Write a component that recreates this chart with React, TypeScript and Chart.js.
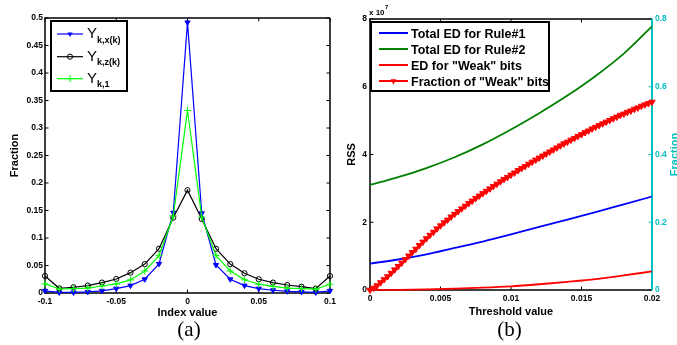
import React, { useEffect, useRef } from "react";
import { Chart, registerables } from "chart.js";

Chart.register(...registerables);

const FONT = '"Liberation Sans", Arial, Helvetica, sans-serif';
const SERIF = '"Liberation Serif", "Times New Roman", serif';
const CYAN = "#00bfbf";

// ---------- (a) ----------
const indexValues = [-0.1, -0.09, -0.08, -0.07, -0.06, -0.05, -0.04, -0.03, -0.02, -0.01, 0, 0.01, 0.02, 0.03, 0.04, 0.05, 0.06, 0.07, 0.08, 0.09, 0.1];
const fractionYkx = [0.004, 0.001, 0.001, 0.002, 0.004, 0.008, 0.0135, 0.025, 0.053, 0.146, 0.492, 0.145, 0.051, 0.025, 0.0135, 0.008, 0.005, 0.003, 0.002, 0.001, 0.004];
const fractionYkz = [0.031, 0.0085, 0.0105, 0.0135, 0.019, 0.0255, 0.037, 0.0525, 0.0805, 0.137, 0.187, 0.1345, 0.0805, 0.0525, 0.036, 0.025, 0.019, 0.0145, 0.0115, 0.008, 0.031];
const fractionYk1 = [0.0165, 0.0073, 0.008, 0.009, 0.0127, 0.0165, 0.0238, 0.04, 0.068, 0.14, 0.332, 0.138, 0.068, 0.04, 0.024, 0.016, 0.012, 0.009, 0.008, 0.007, 0.016];
const aXTicks = [-0.1, -0.05, 0, 0.05, 0.1];
const aYMax = 0.5;

// ---------- (b) ----------
const thresholdCoarse = [0, 0.002, 0.004, 0.006, 0.008, 0.01, 0.012, 0.014, 0.016, 0.018, 0.02];
// RSS values in units of 10^7
const totalEdRule1 = [0.78, 0.9, 1.05, 1.24, 1.43, 1.64, 1.86, 2.08, 2.3, 2.53, 2.76];
const totalEdRule2 = [3.1, 3.33, 3.6, 3.92, 4.3, 4.74, 5.22, 5.74, 6.32, 6.98, 7.78];
const edWeakBits = [0, 0.005, 0.02, 0.04, 0.07, 0.11, 0.17, 0.24, 0.32, 0.43, 0.55];
const thresholdFine = [0, 0.00025, 0.0005, 0.00075, 0.001, 0.00125, 0.0015, 0.00175, 0.002, 0.00225, 0.0025, 0.00275, 0.003, 0.00325, 0.0035, 0.00375, 0.004, 0.00425, 0.0045, 0.00475, 0.005, 0.00525, 0.0055, 0.00575, 0.006, 0.00625, 0.0065, 0.00675, 0.007, 0.00725, 0.0075, 0.00775, 0.008, 0.00825, 0.0085, 0.00875, 0.009, 0.00925, 0.0095, 0.00975, 0.01, 0.01025, 0.0105, 0.01075, 0.011, 0.01125, 0.0115, 0.01175, 0.012, 0.01225, 0.0125, 0.01275, 0.013, 0.01325, 0.0135, 0.01375, 0.014, 0.01425, 0.0145, 0.01475, 0.015, 0.01525, 0.0155, 0.01575, 0.016, 0.01625, 0.0165, 0.01675, 0.017, 0.01725, 0.0175, 0.01775, 0.018, 0.01825, 0.0185, 0.01875, 0.019, 0.01925, 0.0195, 0.01975, 0.02];
const weakFraction = [0, 0.006, 0.013, 0.022, 0.031, 0.04, 0.05, 0.06, 0.07, 0.08, 0.09, 0.101, 0.111, 0.121, 0.132, 0.142, 0.152, 0.162, 0.171, 0.181, 0.19, 0.199, 0.207, 0.216, 0.224, 0.232, 0.24, 0.248, 0.256, 0.263, 0.271, 0.278, 0.285, 0.292, 0.299, 0.306, 0.313, 0.32, 0.327, 0.333, 0.34, 0.346, 0.353, 0.359, 0.365, 0.372, 0.378, 0.384, 0.39, 0.396, 0.402, 0.408, 0.414, 0.42, 0.426, 0.432, 0.437, 0.443, 0.448, 0.454, 0.459, 0.465, 0.47, 0.476, 0.481, 0.486, 0.491, 0.496, 0.501, 0.506, 0.511, 0.516, 0.52, 0.525, 0.529, 0.534, 0.538, 0.543, 0.547, 0.551, 0.555];
const bLegend = ["Total ED for Rule#1", "Total ED for Rule#2", 'ED for "Weak" bits', 'Fraction of "Weak" bits'];

const zip = (xs: number[], ys: number[]) => xs.map((x, i) => ({ x, y: ys[i] }));
const fmt = (v: any) => String(Number(Number(v).toFixed(5)));

const tickFont = { family: FONT, size: 8.5, weight: "bold" as const };
const titleFont = { family: FONT, size: 11, weight: "bold" as const };

function triDown(ctx: CanvasRenderingContext2D, x: number, y: number, r: number) {
  ctx.beginPath();
  ctx.moveTo(x, y + r);
  ctx.lineTo(x - r * 0.866, y - r * 0.5);
  ctx.lineTo(x + r * 0.866, y - r * 0.5);
  ctx.closePath();
  ctx.fill();
}

function drawFrame(chart: any, rightColor: string, hasY1: boolean) {
  const { ctx, chartArea: a } = chart;
  const xs = chart.scales.x;
  const ys = chart.scales.y;
  const tl = 3.5;
  ctx.save();
  ctx.lineWidth = 1;
  ctx.strokeStyle = "#000";
  ctx.beginPath();
  xs.ticks.forEach((t: any) => {
    const px = xs.getPixelForValue(t.value);
    ctx.moveTo(px, a.bottom);
    ctx.lineTo(px, a.bottom - tl);
    ctx.moveTo(px, a.top);
    ctx.lineTo(px, a.top + tl);
  });
  ys.ticks.forEach((t: any) => {
    const py = ys.getPixelForValue(t.value);
    ctx.moveTo(a.left, py);
    ctx.lineTo(a.left + tl, py);
    if (!hasY1) {
      ctx.moveTo(a.right, py);
      ctx.lineTo(a.right - tl, py);
    }
  });
  ctx.stroke();
  if (hasY1) {
    const y1 = chart.scales.y1;
    ctx.strokeStyle = rightColor;
    ctx.beginPath();
    y1.ticks.forEach((t: any) => {
      const py = y1.getPixelForValue(t.value);
      ctx.moveTo(a.right, py);
      ctx.lineTo(a.right - tl, py);
    });
    ctx.stroke();
  }
  ctx.lineWidth = 1.5;
  ctx.strokeStyle = "#000";
  ctx.beginPath();
  ctx.moveTo(a.right, a.top);
  ctx.lineTo(a.left, a.top);
  ctx.lineTo(a.left, a.bottom);
  ctx.lineTo(a.right, a.bottom);
  ctx.stroke();
  ctx.strokeStyle = rightColor;
  ctx.lineWidth = hasY1 ? 2 : 1.5;
  ctx.beginPath();
  ctx.moveTo(a.right, a.top);
  ctx.lineTo(a.right, a.bottom);
  ctx.stroke();
  ctx.restore();
}

const framePluginA = {
  id: "frameA",
  beforeDatasetsDraw(chart: any) {
    drawFrame(chart, "#000", false);
  },
  afterDraw(chart: any) {
    const ctx: CanvasRenderingContext2D = chart.ctx;
    ctx.save();
    // legend box
    ctx.fillStyle = "#fff";
    ctx.fillRect(51, 21, 76, 70);
    ctx.lineWidth = 2;
    ctx.strokeStyle = "#000";
    ctx.strokeRect(51, 21, 76, 70);
    const rows = [
      { y: 34, color: "#0000ff", sub: "k,x(k)", marker: "tri" },
      { y: 56.7, color: "#000000", sub: "k,z(k)", marker: "circ" },
      { y: 78.7, color: "#00ff00", sub: "k,1", marker: "plus" },
    ];
    rows.forEach((r) => {
      ctx.strokeStyle = r.color;
      ctx.fillStyle = r.color;
      ctx.lineWidth = 1.2;
      ctx.beginPath();
      ctx.moveTo(57, r.y);
      ctx.lineTo(83, r.y);
      ctx.stroke();
      ctx.lineWidth = 1;
      if (r.marker === "tri") triDown(ctx, 70, r.y, 3);
      if (r.marker === "circ") {
        ctx.beginPath();
        ctx.arc(70, r.y, 2.6, 0, Math.PI * 2);
        ctx.stroke();
      }
      if (r.marker === "plus") {
        ctx.beginPath();
        ctx.moveTo(66.5, r.y);
        ctx.lineTo(73.5, r.y);
        ctx.moveTo(70, r.y - 3.5);
        ctx.lineTo(70, r.y + 3.5);
        ctx.stroke();
      }
      ctx.fillStyle = "#000";
      ctx.textBaseline = "alphabetic";
      ctx.textAlign = "left";
      ctx.font = `15px ${FONT}`;
      ctx.fillText("Y", 87, r.y + 3.8);
      const w = ctx.measureText("Y").width;
      ctx.font = `bold 9px ${FONT}`;
      ctx.fillText(r.sub, 87 + w, r.y + 8.5);
    });
    ctx.font = `21px ${SERIF}`;
    ctx.textAlign = "center";
    ctx.textBaseline = "middle";
    ctx.fillText("(a)", 189, 330);
    ctx.restore();
  },
};

const framePluginB = {
  id: "frameB",
  beforeDatasetsDraw(chart: any) {
    drawFrame(chart, CYAN, true);
  },
  afterDraw(chart: any) {
    const ctx: CanvasRenderingContext2D = chart.ctx;
    ctx.save();
    ctx.fillStyle = "#fff";
    ctx.fillRect(31, 22, 178, 69);
    ctx.lineWidth = 2;
    ctx.strokeStyle = "#000";
    ctx.strokeRect(31, 22, 178, 69);
    const colors = ["#0000ff", "#008000", "#ff0000", "#ff0000"];
    const ys = [33, 49, 65, 81];
    bLegend.forEach((label, i) => {
      ctx.strokeStyle = colors[i];
      ctx.fillStyle = colors[i];
      ctx.lineWidth = 2;
      ctx.beginPath();
      ctx.moveTo(39, ys[i]);
      ctx.lineTo(68, ys[i]);
      ctx.stroke();
      if (i === 3) triDown(ctx, 53.5, ys[i], 3.4);
      ctx.fillStyle = "#000";
      ctx.font = `bold 12.5px ${FONT}`;
      ctx.textAlign = "left";
      ctx.textBaseline = "alphabetic";
      ctx.fillText(label, 71, ys[i] + 4.5);
    });
    // x 10^7
    ctx.font = `bold 8px ${FONT}`;
    ctx.fillText("x 10", 29, 15);
    const w = ctx.measureText("x 10").width;
    ctx.font = `bold 6px ${FONT}`;
    ctx.fillText("7", 29 + w + 0.5, 9);
    // right axis title
    ctx.save();
    ctx.translate(335, 154.5);
    ctx.rotate(-Math.PI / 2);
    ctx.fillStyle = CYAN;
    ctx.font = `bold 11px ${FONT}`;
    ctx.textAlign = "center";
    ctx.textBaseline = "middle";
    ctx.fillText("Fraction", 0, 0);
    ctx.restore();
    ctx.fillStyle = "#000";
    ctx.font = `21px ${SERIF}`;
    ctx.textAlign = "center";
    ctx.textBaseline = "middle";
    ctx.fillText("(b)", 169.5, 330);
    ctx.restore();
  },
};

function configA(): any {
  return {
    type: "line",
    data: {
      datasets: [
        {
          data: zip(indexValues, fractionYkx),
          borderColor: "#0000ff",
          backgroundColor: "#0000ff",
          borderWidth: 1.2,
          pointStyle: "triangle",
          rotation: 180,
          pointRadius: 3,
          pointBorderWidth: 1,
          clip: false,
          order: 2,
        },
        {
          data: zip(indexValues, fractionYkz),
          borderColor: "#000000",
          backgroundColor: "rgba(0,0,0,0)",
          borderWidth: 1.2,
          pointStyle: "circle",
          pointRadius: 2.6,
          pointBorderWidth: 1,
          clip: false,
          order: 1,
        },
        {
          data: zip(indexValues, fractionYk1),
          borderColor: "#00ff00",
          backgroundColor: "#00ff00",
          borderWidth: 1.2,
          pointStyle: "cross",
          pointRadius: 3.5,
          pointBorderWidth: 1,
          clip: false,
          order: 0,
        },
      ],
    },
    options: {
      responsive: false,
      animation: false,
      events: [],
      layout: { padding: { left: 0, right: 10, top: 18, bottom: 20 } },
      plugins: { legend: { display: false }, tooltip: { enabled: false } },
      scales: {
        x: {
          type: "linear",
          min: -0.1,
          max: 0.1,
          afterBuildTicks: (s: any) => {
            s.ticks = aXTicks.map((v) => ({ value: v }));
          },
          afterFit: (s: any) => {
            s.height = 32;
          },
          grid: { display: false, drawTicks: false },
          border: { display: false },
          ticks: { font: tickFont, color: "#000", padding: 4, maxRotation: 0, callback: fmt },
          title: { display: true, text: "Index value", font: titleFont, color: "#000", padding: { top: 0, bottom: 5 } },
        },
        y: {
          type: "linear",
          min: 0,
          max: aYMax,
          afterFit: (s: any) => {
            s.width = 45;
          },
          grid: { display: false, drawTicks: false },
          border: { display: false },
          ticks: { stepSize: 0.05, font: tickFont, color: "#000", padding: 2, callback: fmt },
          title: { display: true, text: "Fraction", font: titleFont, color: "#000", padding: { top: 8, bottom: 0 } },
        },
      },
    },
    plugins: [framePluginA],
  };
}

function configB(): any {
  const lineOpts = { borderWidth: 1.8, pointRadius: 0, cubicInterpolationMode: "monotone", clip: false };
  return {
    type: "line",
    data: {
      datasets: [
        { data: zip(thresholdCoarse, totalEdRule1), borderColor: "#0000ff", yAxisID: "y", order: 3, ...lineOpts },
        { data: zip(thresholdCoarse, totalEdRule2), borderColor: "#008000", yAxisID: "y", order: 2, ...lineOpts },
        { data: zip(thresholdCoarse, edWeakBits), borderColor: "#ff0000", yAxisID: "y", order: 1, ...lineOpts },
        {
          data: zip(thresholdFine, weakFraction),
          borderColor: "#ff0000",
          backgroundColor: "#ff0000",
          borderWidth: 2,
          pointStyle: "triangle",
          rotation: 180,
          pointRadius: 3.6,
          pointBorderWidth: 1,
          yAxisID: "y1",
          clip: false,
          order: 0,
        },
      ],
    },
    options: {
      responsive: false,
      animation: false,
      events: [],
      layout: { padding: { left: 0, right: 0, top: 19, bottom: 20 } },
      plugins: { legend: { display: false }, tooltip: { enabled: false } },
      scales: {
        x: {
          type: "linear",
          min: 0,
          max: 0.02,
          afterFit: (s: any) => {
            s.height = 35;
          },
          grid: { display: false, drawTicks: false },
          border: { display: false },
          ticks: { stepSize: 0.005, font: tickFont, color: "#000", padding: 4, maxRotation: 0, callback: fmt },
          title: { display: true, text: "Threshold value", font: titleFont, color: "#000", padding: { top: 0, bottom: 6 } },
        },
        y: {
          type: "linear",
          position: "left",
          min: 0,
          max: 8,
          afterFit: (s: any) => {
            s.width = 30;
          },
          grid: { display: false, drawTicks: false },
          border: { display: false },
          ticks: { stepSize: 2, font: tickFont, color: "#000", padding: 3, callback: fmt },
          title: { display: true, text: "RSS", font: titleFont, color: "#000", padding: { top: 5, bottom: 0 } },
        },
        y1: {
          type: "linear",
          position: "right",
          min: 0,
          max: 0.8,
          afterFit: (s: any) => {
            s.width = 25;
          },
          grid: { display: false, drawTicks: false },
          border: { display: false },
          ticks: { stepSize: 0.2, font: tickFont, color: CYAN, padding: 3, callback: fmt },
        },
      },
    },
    plugins: [framePluginB],
  };
}

function ChartCanvas({ make, left, width }: { make: () => any; left: number; width: number }) {
  const ref = useRef<HTMLCanvasElement>(null);
  useEffect(() => {
    if (!ref.current) return;
    const chart = new Chart(ref.current, make());
    return () => chart.destroy();
  }, []);
  return (
    <canvas
      ref={ref}
      width={width}
      height={345}
      style={{ position: "absolute", left, top: 0, width, height: 345 }}
    />
  );
}

export default function App() {
  Chart.defaults.font.family = FONT;
  return (
    <div style={{ position: "absolute", left: 0, top: 0, width: 677, height: 345, background: "#fff", overflow: "hidden" }}>
      <ChartCanvas make={configA} left={0} width={340} />
      <ChartCanvas make={configB} left={340} width={337} />
    </div>
  );
}
